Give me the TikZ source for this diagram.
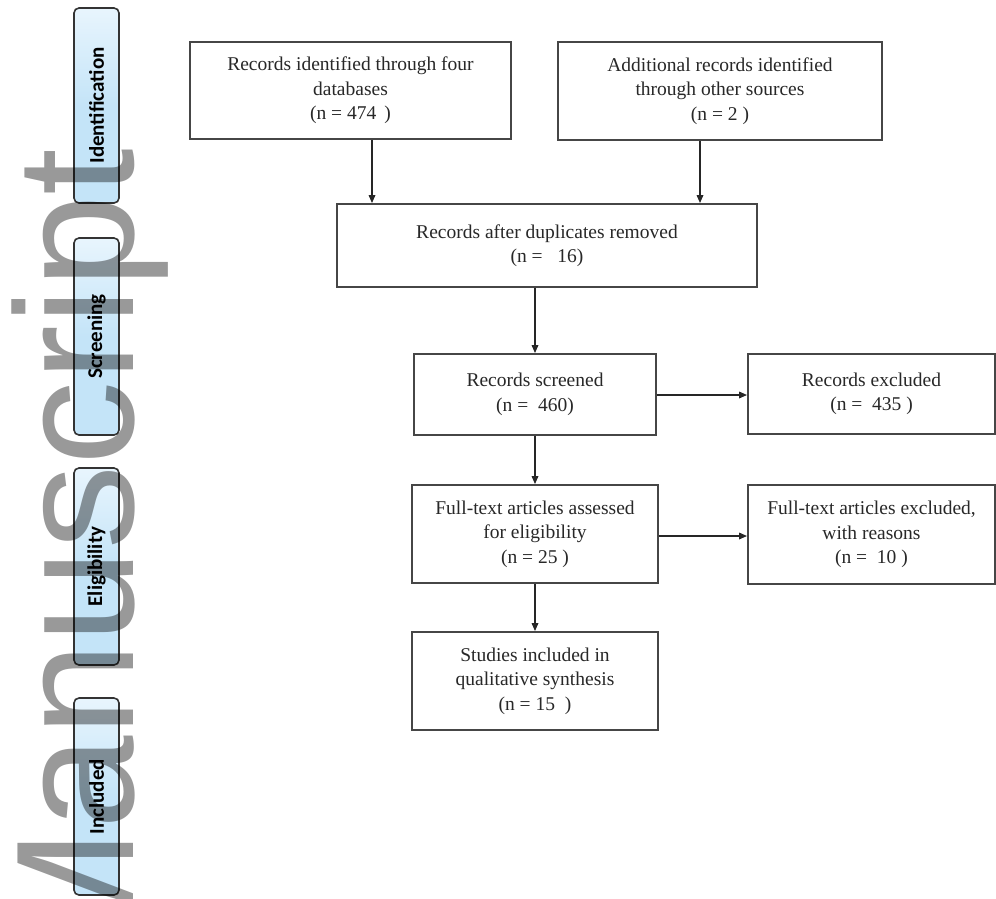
\documentclass[tikz,border=0pt]{standalone}
\usepackage{fontspec}
\setmainfont{Liberation Serif}
\newfontfamily\barfont{Carlito}
\newfontfamily\wmfont{Liberation Sans}
\usetikzlibrary{arrows.meta,calc}
\definecolor{barblue}{RGB}{196,228,248}
\definecolor{baredge}{RGB}{232,245,253}
\definecolor{boxline}{RGB}{70,70,70}
\definecolor{boxtext}{RGB}{40,40,40}
\begin{document}
\begin{tikzpicture}[x=1pt,y=-1pt,
  flowbox/.style={draw=boxline, line width=1.8pt, rectangle, align=center,
    text=boxtext, font=\fontsize{19.5}{24.5}\selectfont, inner sep=0pt},
  phasebar/.style={draw=black!80, line width=1.6pt, rounded corners=5pt, rotate=90,
    minimum width=195, minimum height=45, inner sep=0pt,
    top color=baredge, bottom color=barblue, middle color=barblue,
    font=\barfont\bfseries\fontsize{21}{24}\selectfont},
  arr/.style={draw=black!85, line width=1.6pt, -{Triangle[length=8pt,width=6.5pt]}}]
\useasboundingbox (0,0) rectangle (996,898);
\fill[white] (0,0) rectangle (996,898);
\clip (0,0) rectangle (996,898);

% phase bars
\node[phasebar, minimum width=195] (p1) at (96.5,105.5) {Identification};
\node[phasebar, minimum width=197] (p2) at (96.5,336.5) {Screening};
\node[phasebar, minimum width=197] (p3) at (96.5,566.5) {Eligibility};
\node[phasebar, minimum width=197] (p4) at (96.5,796.5) {Included};

% boxes
\node[flowbox, minimum width=321, minimum height=97] (A) at (350.5,90.5)
  {Records identified through four\\databases\\(n = 474 \,)};
\node[flowbox, minimum width=324, minimum height=98] (B) at (720,91)
  {Additional records identified\\through other sources\\(n = 2 )};
\node[flowbox, minimum width=420, minimum height=83] (C) at (547,245.5)
  {Records after duplicates removed\\(n = \ \ 16)};
\node[flowbox, minimum width=242, minimum height=81] (D) at (535,394.5)
  {Records screened\\(n = \ 460)};
\node[flowbox, minimum width=247, minimum height=80] (E) at (871.5,394)
  {Records excluded\\(n = \ 435 )};
\node[flowbox, minimum width=246, minimum height=98] (F) at (535,534)
  {Full-text articles assessed\\for eligibility\\(n = 25 )};
\node[flowbox, minimum width=247, minimum height=99] (G) at (871.5,534.5)
  {Full-text articles excluded,\\with reasons\\(n = \ 10 )};
\node[flowbox, minimum width=246, minimum height=98] (H) at (535,681)
  {Studies included in\\qualitative synthesis\\(n = 15 \ )};

% connectors
\coordinate (xa) at (372,0);
\coordinate (xb) at (700,0);
\draw[arr] (A.south -| xa) -- (C.north -| xa);
\draw[arr] (B.south -| xb) -- (C.north -| xb);
\draw[arr] (C.south -| D.north) -- (D.north);
\draw[arr] (D.south) -- (F.north);
\draw[arr] (F.south) -- (H.north);
\draw[arr] ([yshift=-0.5]D.east) -- ([yshift=-0.5]D.east -| E.west);
\draw[arr] ([yshift=-2]F.east) -- ([yshift=-2]F.east -| G.west);

% watermark
\node[rotate=90, anchor=base west, inner sep=0pt, text=black, text opacity=0.4,
  font=\wmfont\fontsize{168}{168}\selectfont] (wm) at (133,970) {Manuscript};
\end{tikzpicture}
\end{document}
